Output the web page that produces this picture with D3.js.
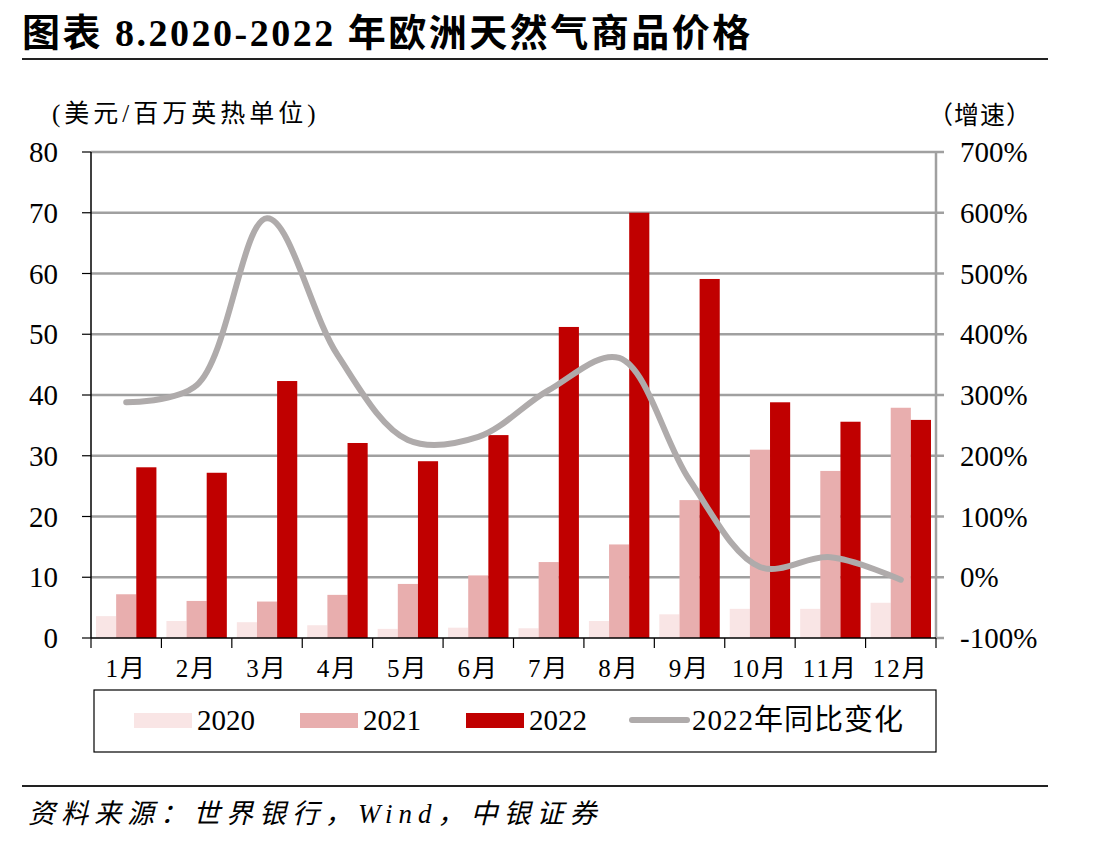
<!DOCTYPE html>
<html>
<head>
<meta charset="utf-8">
<script src="https://cdn.jsdelivr.net/npm/d3@7/dist/d3.min.js"></script>
<style>
body { margin: 0; background: #fff; }
text { font-family: "Liberation Serif", "Noto Sans CJK SC", serif; fill: #000; }
</style>
</head>
<body>
<script>
var months = ["1月","2月","3月","4月","5月","6月","7月","8月","9月","10月","11月","12月"];
var years = ["2020","2021","2022"];
var price2020 = [3.6, 2.8, 2.6, 2.1, 1.5, 1.7, 1.6, 2.8, 3.9, 4.8, 4.8, 5.8];
var price2021 = [7.2, 6.1, 6.0, 7.1, 8.9, 10.3, 12.5, 15.4, 22.7, 31.0, 27.5, 37.9];
var price2022 = [28.1, 27.2, 42.3, 32.1, 29.1, 33.4, 51.2, 70.0, 59.1, 38.8, 35.6, 35.9];
var yoy2022 = [2.88, 3.16, 5.91, 3.66, 2.26, 2.31, 3.08, 3.61, 1.60, 0.17, 0.33, -0.04];
var leftTicks = [0, 10, 20, 30, 40, 50, 60, 70, 80];
var rightTicks = [-1, 0, 1, 2, 3, 4, 5, 6, 7];
var colors = ["#F9E5E5", "#E8AEAE", "#C00000"];
var lineColor = "#AFABAB";

var width = 1101;
var height = 843;
var plotLeft = 91, plotRight = 936, plotTop = 152, plotBottom = 638;

var svg = d3.select("body").append("svg")
	.attr("width", width)
	.attr("height", height);

// title
svg.append("text")
	.attr("x", 22)
	.attr("y", 46)
	.attr("font-size", "38px")
	.attr("font-weight", "bold")
	.attr("letter-spacing", "2.5px")
	.text("图表 8.2020-2022 年欧洲天然气商品价格");

svg.append("line")
	.attr("x1", 22).attr("x2", 1048)
	.attr("y1", 59).attr("y2", 59)
	.attr("stroke", "#222").attr("stroke-width", 2);

var x = d3.scaleBand()
	.domain(months)
	.range([plotLeft, plotRight])
	.padding(0);

var x1 = d3.scaleBand()
	.domain(years)
	.range([5, x.bandwidth() - 5])
	.padding(0);

var y = d3.scaleLinear()
	.domain([0, 80])
	.range([plotBottom, plotTop]);

var y2 = d3.scaleLinear()
	.domain([-1, 7])
	.range([plotBottom, plotTop]);

// gridlines
svg.selectAll(".grid")
	.data(leftTicks.slice(1))
	.enter()
	.append("line")
	.attr("x1", plotLeft)
	.attr("x2", plotRight + 8)
	.attr("y1", function(d) { return y(d); })
	.attr("y2", function(d) { return y(d); })
	.attr("stroke", "#A0A0A0")
	.attr("stroke-width", 2.5);

svg.append("line")
	.attr("x1", plotRight).attr("x2", plotRight + 8)
	.attr("y1", plotBottom).attr("y2", plotBottom)
	.attr("stroke", "#A0A0A0").attr("stroke-width", 2.5);

// right axis line
svg.append("line")
	.attr("x1", plotRight).attr("x2", plotRight)
	.attr("y1", plotTop).attr("y2", plotBottom)
	.attr("stroke", "#A0A0A0").attr("stroke-width", 2.5);

// bars
var series = [price2020, price2021, price2022];
series.forEach(function(vals, si) {
	svg.selectAll(".bar" + si)
		.data(vals)
		.enter()
		.append("rect")
		.attr("x", function(d, i) { return x(months[i]) + x1(years[si]); })
		.attr("y", function(d) { return y(d); })
		.attr("width", x1.bandwidth())
		.attr("height", function(d) { return plotBottom - y(d); })
		.attr("fill", colors[si]);
});

// left axis
svg.append("line")
	.attr("x1", plotLeft).attr("x2", plotLeft)
	.attr("y1", plotTop).attr("y2", plotBottom)
	.attr("stroke", "#000").attr("stroke-width", 1.5);

svg.selectAll(".ltick")
	.data(leftTicks)
	.enter()
	.append("line")
	.attr("x1", plotLeft - 9).attr("x2", plotLeft)
	.attr("y1", function(d) { return y(d); })
	.attr("y2", function(d) { return y(d); })
	.attr("stroke", "#000").attr("stroke-width", 1.2);

svg.selectAll(".llabel")
	.data(leftTicks)
	.enter()
	.append("text")
	.attr("x", 58)
	.attr("y", function(d) { return y(d) + 10; })
	.attr("text-anchor", "end")
	.attr("font-size", "29px")
	.text(function(d) { return d; });

svg.selectAll(".rlabel")
	.data(rightTicks)
	.enter()
	.append("text")
	.attr("x", 960)
	.attr("y", function(d) { return y2(d) + 10; })
	.attr("font-size", "29px")
	.text(function(d) { return (d * 100) + "%"; });

// bottom axis
svg.append("line")
	.attr("x1", plotLeft).attr("x2", plotRight)
	.attr("y1", plotBottom).attr("y2", plotBottom)
	.attr("stroke", "#000").attr("stroke-width", 1.5);

svg.selectAll(".btick")
	.data(months.concat(["end"]))
	.enter()
	.append("line")
	.attr("x1", function(d, i) { return plotLeft + i * x.bandwidth(); })
	.attr("x2", function(d, i) { return plotLeft + i * x.bandwidth(); })
	.attr("y1", plotBottom).attr("y2", plotBottom + 10)
	.attr("stroke", "#000").attr("stroke-width", 1.2);

svg.selectAll(".blabel")
	.data(months)
	.enter()
	.append("text")
	.attr("x", function(d) { return x(d) + x.bandwidth() / 2; })
	.attr("y", 677)
	.attr("text-anchor", "middle")
	.attr("font-size", "25px")
	.attr("letter-spacing", "2px")
	.text(function(d) { return d; });

// axis titles
svg.append("text")
	.attr("x", 52).attr("y", 122)
	.attr("font-size", "25px")
	.attr("letter-spacing", "4px")
	.text("(美元/百万英热单位)");

svg.append("text")
	.attr("x", 928).attr("y", 124)
	.attr("font-size", "25px")
	.attr("letter-spacing", "1px")
	.text("（增速）");

// yoy line
var line = d3.line()
	.x(function(d, i) { return x(months[i]) + x.bandwidth() / 2; })
	.y(function(d) { return y2(d); })
	.curve(d3.curveCatmullRom.alpha(0.5));

svg.append("path")
	.datum(yoy2022)
	.attr("d", line)
	.attr("fill", "none")
	.attr("stroke", lineColor)
	.attr("stroke-width", 6)
	.attr("stroke-linecap", "round");

// legend
svg.append("rect")
	.attr("x", 94).attr("y", 690)
	.attr("width", 842).attr("height", 62)
	.attr("fill", "none")
	.attr("stroke", "#000").attr("stroke-width", 1.2);

var legendItems = [
	{ label: "2020", x: 134, type: "rect", color: colors[0] },
	{ label: "2021", x: 300, type: "rect", color: colors[1] },
	{ label: "2022", x: 466, type: "rect", color: colors[2] },
	{ label: "2022年同比变化", x: 629, type: "line", color: lineColor }
];

legendItems.forEach(function(d) {
	if (d.type === "rect") {
		svg.append("rect")
			.attr("x", d.x).attr("y", 713)
			.attr("width", 58).attr("height", 15)
			.attr("fill", d.color);
	} else {
		svg.append("line")
			.attr("x1", d.x + 3).attr("x2", d.x + 58)
			.attr("y1", 720).attr("y2", 720)
			.attr("stroke", d.color).attr("stroke-width", 6)
			.attr("stroke-linecap", "round");
	}
	svg.append("text")
		.attr("x", d.x + 63)
		.attr("y", 730)
		.attr("font-size", "29px")
		.attr("letter-spacing", d.type === "line" ? "1px" : "0px")
		.text(d.label);
});

// source
svg.append("line")
	.attr("x1", 22).attr("x2", 1048)
	.attr("y1", 786).attr("y2", 786)
	.attr("stroke", "#222").attr("stroke-width", 2);

svg.append("text")
	.attr("x", 28).attr("y", 823)
	.attr("font-size", "27px")
	.attr("font-style", "italic")
	.attr("letter-spacing", "6px")
	.text("资料来源：世界银行，Wind，中银证券");
</script>
</body>
</html>
